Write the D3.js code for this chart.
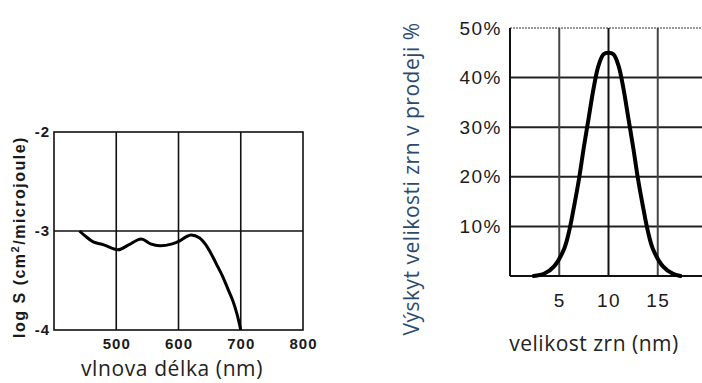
<!DOCTYPE html>
<html>
<head>
<meta charset="utf-8">
<script src="https://cdn.jsdelivr.net/npm/d3@7"></script>
<style>
  body { margin: 0; background: #fff; }
  svg { display: block; }
</style>
</head>
<body>
<svg width="702" height="383"></svg>
<script>
// left chart: spectral sensitivity
var waveTicks = [500, 600, 700, 800];
var logTicks = [-2, -3, -4];
var waveX = [441, 450, 463, 480, 503, 520, 540, 555, 570, 590, 602, 612, 620, 634, 645, 655, 663, 671, 679, 687, 694, 700];
var logS  = [-3.0, -3.05, -3.11, -3.14, -3.19, -3.14, -3.08, -3.13, -3.15, -3.13, -3.10, -3.06, -3.04, -3.07, -3.15, -3.26, -3.36, -3.46, -3.58, -3.70, -3.84, -4.0];

// right chart: grain size distribution
var sizeTicks = [5, 10, 15];
var pctTicks = [10, 20, 30, 40, 50];
var grainSize = [2.4, 3.5, 4.5, 5.5, 6.0, 6.5, 7.0, 7.5, 8.0, 8.5, 9.0, 9.5, 10.0, 10.5, 11.0, 11.5, 12.0, 12.5, 13.0, 13.5, 14.0, 14.5, 15.5, 16.5, 17.3];
var occurrence = [0, 0.5, 2, 5.5, 9, 14, 19.5, 26, 32, 38, 42.5, 44.7, 45, 44.7, 42.5, 38, 32, 26, 19.5, 14, 9, 5.5, 2, 0.5, 0];

var svg = d3.select('svg');

// ---------- left ----------
var x1 = d3.scaleLinear().domain([400, 800]).range([54, 303]);
var y1 = d3.scaleLinear().domain([-4, -2]).range([330, 132]);

var g1 = svg.append('g');

g1.selectAll('.vgrid')
  .data(waveTicks.filter(d => d < 800))
  .enter().append('line')
    .attr('x1', d => x1(d)).attr('x2', d => x1(d))
    .attr('y1', y1(-2)).attr('y2', y1(-4))
    .attr('stroke', '#111').attr('stroke-width', 1.6);

g1.append('line')
  .attr('x1', x1(400)).attr('x2', x1(800))
  .attr('y1', y1(-3)).attr('y2', y1(-3))
  .attr('stroke', '#111').attr('stroke-width', 1.6);

g1.append('rect')
  .attr('x', x1(400)).attr('y', y1(-2))
  .attr('width', x1(800) - x1(400)).attr('height', y1(-4) - y1(-2))
  .attr('fill', 'none').attr('stroke', '#111').attr('stroke-width', 1.6);

var line1 = d3.line()
  .x((d, i) => x1(waveX[i]))
  .y(d => y1(d))
  .curve(d3.curveCatmullRom);

g1.append('path')
  .attr('d', line1(logS))
  .attr('fill', 'none').attr('stroke', '#000').attr('stroke-width', 3);

var xAxis1 = g1.append('g')
  .attr('transform', 'translate(0,' + 335 + ')')
  .call(d3.axisBottom(x1).tickValues(waveTicks).tickSize(0));
xAxis1.select('.domain').remove();
xAxis1.selectAll('text')
  .attr('dy', '0.71em')
  .style('font-family', '"Liberation Sans", Arial, sans-serif')
  .style('font-weight', 'bold').style('font-size', '15px')
  .style('letter-spacing', '1px').attr('fill', '#1a1a1a');

var yAxis1 = g1.append('g')
  .attr('transform', 'translate(' + 50 + ',0)')
  .call(d3.axisLeft(y1).tickValues(logTicks).tickSize(0).tickFormat(d => '-' + Math.abs(d)));
yAxis1.select('.domain').remove();
yAxis1.selectAll('text')
  .attr('x', 0)
  .style('font-family', '"Liberation Sans", Arial, sans-serif')
  .style('font-weight', 'bold').style('font-size', '15px')
  .style('letter-spacing', '1px').attr('fill', '#1a1a1a');

var t1 = g1.append('text')
  .attr('transform', 'translate(25,237) rotate(-90)')
  .attr('text-anchor', 'middle')
  .style('font-family', '"Liberation Sans", Arial, sans-serif')
  .style('font-weight', 'bold').style('font-size', '16px')
  .style('letter-spacing', '1.5px').attr('fill', '#1a1a1a');
t1.append('tspan').text('log S (cm');
t1.append('tspan').text('2').attr('dy', -6).style('font-size', '11px');
t1.append('tspan').text('/microjoule)').attr('dy', 6);

g1.append('text')
  .attr('x', 172).attr('y', 376)
  .attr('text-anchor', 'middle')
  .style('font-family', '"Open Sans", "Noto Sans", sans-serif')
  .style('font-size', '21px').style('letter-spacing', '0.6px').attr('fill', '#222')
  .text('vlnova délka (nm)');

// ---------- right ----------
var x2 = d3.scaleLinear().domain([0, 20]).range([510, 707]);
var y2 = d3.scaleLinear().domain([0, 50]).range([276, 28]);

var g2 = svg.append('g');

g2.selectAll('.hgrid')
  .data(pctTicks)
  .enter().append('line')
    .attr('x1', x2(0)).attr('x2', x2(20))
    .attr('y1', d => y2(d)).attr('y2', d => y2(d))
    .attr('stroke', d => d === 50 ? '#777' : '#222')
    .attr('stroke-dasharray', d => d === 50 ? '2,1' : null)
    .attr('stroke-width', d => d === 50 ? 1.5 : 2);

g2.selectAll('.vgrid')
  .data(sizeTicks)
  .enter().append('line')
    .attr('x1', d => x2(d)).attr('x2', d => x2(d))
    .attr('y1', y2(50)).attr('y2', y2(0))
    .attr('stroke', d => d === 10 ? '#111' : '#444')
    .attr('stroke-width', 2);

g2.append('line')
  .attr('x1', x2(0)).attr('x2', x2(0))
  .attr('y1', y2(50)).attr('y2', y2(0))
  .attr('stroke', '#111').attr('stroke-width', 2);
g2.append('line')
  .attr('x1', x2(0)).attr('x2', x2(20))
  .attr('y1', y2(0)).attr('y2', y2(0))
  .attr('stroke', '#111').attr('stroke-width', 2);

var line2 = d3.line()
  .x((d, i) => x2(grainSize[i]))
  .y(d => y2(d))
  .curve(d3.curveCatmullRom);

g2.append('path')
  .attr('d', line2(occurrence))
  .attr('fill', 'none').attr('stroke', '#000').attr('stroke-width', 4)
  .attr('stroke-linecap', 'round');

var xAxis2 = g2.append('g')
  .attr('transform', 'translate(0,' + 290 + ')')
  .call(d3.axisBottom(x2).tickValues(sizeTicks).tickSize(0));
xAxis2.select('.domain').remove();
xAxis2.selectAll('text')
  .attr('dy', '0.71em')
  .style('font-family', '"Liberation Sans", Arial, sans-serif')
  .style('font-size', '19px').style('letter-spacing', '1.5px').attr('fill', '#1a1a1a');

var yAxis2 = g2.append('g')
  .attr('transform', 'translate(' + 502 + ',0)')
  .call(d3.axisLeft(y2).tickValues(pctTicks).tickSize(0).tickFormat(d => d + '%'));
yAxis2.select('.domain').remove();
yAxis2.selectAll('text')
  .attr('x', 0)
  .style('font-family', '"Liberation Sans", Arial, sans-serif')
  .style('font-size', '19px').style('letter-spacing', '1.5px').attr('fill', '#1a1a1a');

g2.append('text')
  .attr('transform', 'translate(419,179) rotate(-90)')
  .attr('text-anchor', 'middle')
  .style('font-family', '"Open Sans", "Noto Sans", sans-serif')
  .style('font-size', '21px').style('letter-spacing', '0.5px').attr('fill', '#2b4a70')
  .text('Výskyt velikosti zrn v prodeji %');

g2.append('text')
  .attr('x', 594).attr('y', 351)
  .attr('text-anchor', 'middle')
  .style('font-family', '"Open Sans", "Noto Sans", sans-serif')
  .style('font-size', '21px').style('letter-spacing', '0.5px').attr('fill', '#222')
  .text('velikost zrn (nm)');
</script>
</body>
</html>
